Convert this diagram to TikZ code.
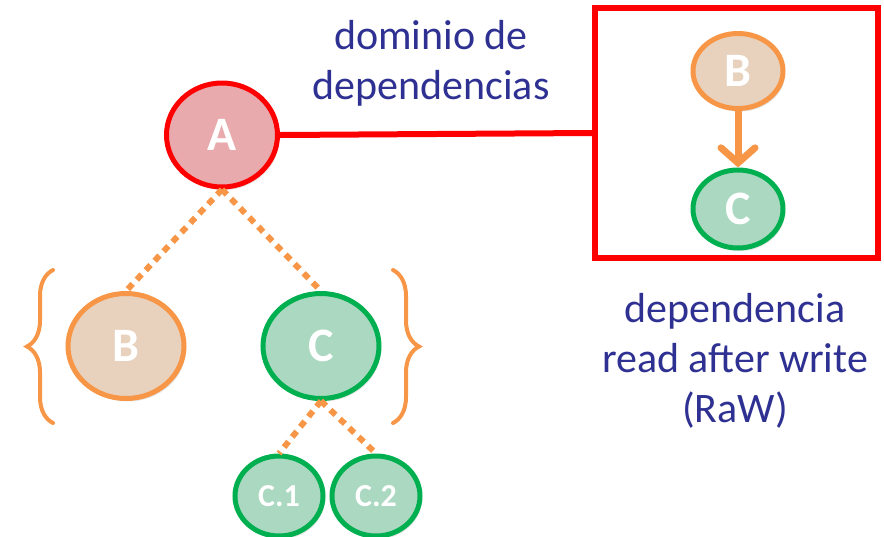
\documentclass[tikz,border=0pt]{standalone}
\usepackage{fontspec}
\setmainfont{Carlito}
\usetikzlibrary{shapes.geometric,arrows.meta,decorations.pathreplacing,shadows}
\definecolor{txtblue}{RGB}{46,49,146}
\definecolor{ared}{RGB}{255,0,0}
\definecolor{afill}{RGB}{233,170,173}
\definecolor{bor}{RGB}{247,150,70}
\definecolor{bfill}{RGB}{232,210,190}
\definecolor{cgr}{RGB}{0,176,80}
\definecolor{cfill}{RGB}{170,216,192}
\tikzset{
  nd/.style={ellipse, inner sep=0pt, line width=5pt, text=white,
    font=\bfseries\fontsize{48}{48}\selectfont,
    drop shadow={opacity=0.2, shadow xshift=2pt, shadow yshift=-3pt}},
  anode/.style={nd, draw=ared, fill=afill},
  bnode/.style={nd, draw=bor, fill=bfill},
  cnode/.style={nd, draw=cgr, fill=cfill},
  small/.style={font=\bfseries\fontsize{32}{32}\selectfont},
  dotline/.style={draw=bor, line width=6pt, dash pattern=on 7pt off 6pt},
  bracestyle/.style={draw=bor, line width=4pt, line cap=round,
    decorate, decoration={brace, amplitude=26pt}},
  lbl/.style={text=txtblue, align=center, font=\fontsize{42}{50}\selectfont}
}
\begin{document}
\begin{tikzpicture}[x=1pt, y=-1pt]
\useasboundingbox (0,0) rectangle (884,536);
% main tree
\node[anode, minimum width=111pt, minimum height=104pt] (A) at (222,135) {A};
\node[bnode, minimum width=116pt, minimum height=105pt] (B) at (126,346) {B};
\node[cnode, minimum width=116pt, minimum height=105pt] (C) at (321,346) {C};
\node[cnode, small, minimum width=88pt, minimum height=80pt] (C1) at (279,496) {C.1};
\node[cnode, small, minimum width=88pt, minimum height=80pt] (C2) at (376,496) {C.2};
\draw[dotline] (A.south) -- (B.north);
\draw[dotline] (A.south) -- (C.north);
\draw[dotline] (C.south) -- (C1.north);
\draw[dotline] (C.south) -- (C2.north);
% braces
\draw[bracestyle] (53,423) -- (53,270);
\draw[bracestyle] (393,270) -- (393,423);
% right box
\node[draw=ared, line width=6pt, minimum width=283pt, minimum height=250pt,
  drop shadow={opacity=0.25, shadow xshift=2pt, shadow yshift=-2pt}, fill=white] (box) at (736.5,133) {};
\node[bnode, minimum width=90pt, minimum height=75pt] (B2) at (738,71) {B};
\node[cnode, minimum width=90pt, minimum height=78pt] (C3) at (738,209) {C};
\draw[draw=bor, line width=7pt, -{Straight Barb[length=15pt, width=34pt, line cap=round]}] (B2.south) -- (C3.north);
\draw[draw=ared, line width=6pt] (A.east) -- (box.west);
% labels
\node[lbl] (t1) at (431,63) {dominio de\\dependencias};
\node[lbl] (t2) at (735,361) {dependencia\\read after write\\(RaW)};
\end{tikzpicture}
\end{document}
